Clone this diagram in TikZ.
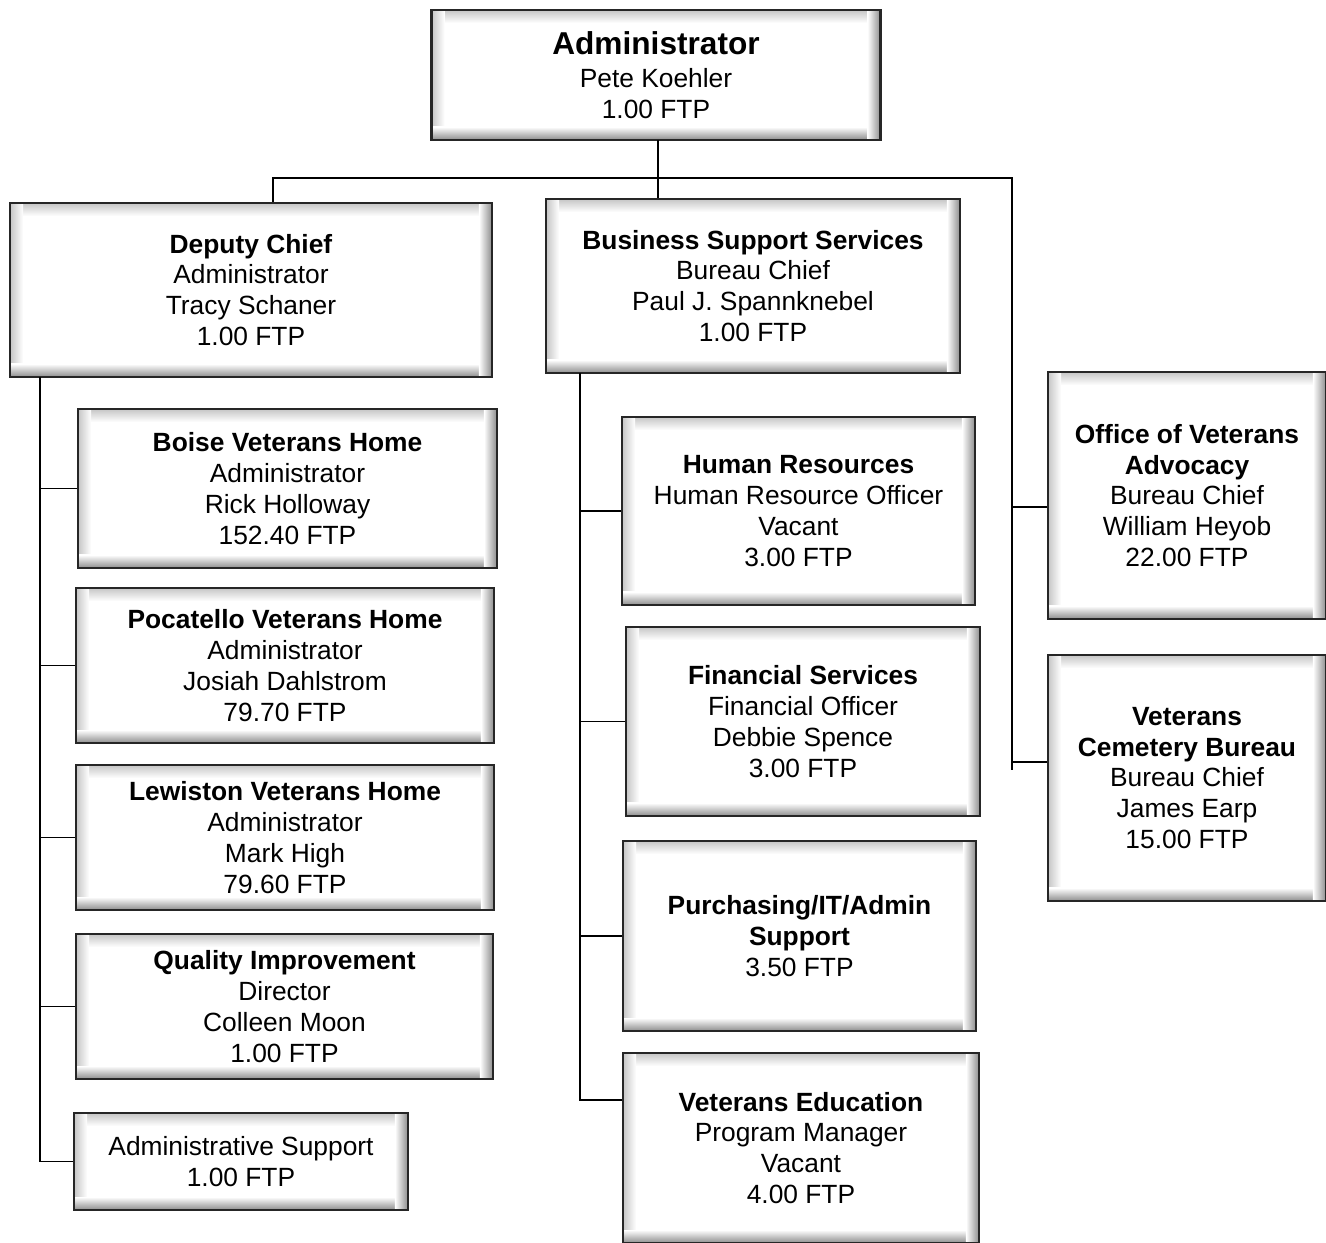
\documentclass[tikz,border=0pt]{standalone}
\usepackage{fontspec}
\setmainfont{Liberation Sans}
\usepackage{tikz}
\usetikzlibrary{calc}

\newcommand{\bev}{0.26cm}
\tikzset{
  orgbox/.style={rectangle, draw=black!85, line width=1.3pt, fill=white,
    align=center, inner sep=0pt,
    font=\fontsize{15}{17.6}\selectfont,
    path picture={
      \coordinate (sw) at (path picture bounding box.south west);
      \coordinate (ne) at (path picture bounding box.north east);
      \shade[top color=gray!45, bottom color=white] ($(sw |- ne)+(0,-\bev)$) rectangle (ne);
      \shade[left color=gray!45, right color=white] (sw) rectangle ($(sw |- ne)+(\bev,0)$);
      \shade[bottom color=gray!90, top color=white] (sw) rectangle ($(sw -| ne)+(0,\bev)$);
      \shade[left color=white, right color=gray!90] ($(sw -| ne)+(-\bev,0)$) rectangle (ne);
    }},
  conn/.style={line width=0.6pt, black}
}

\begin{document}
\begin{tikzpicture}[x=0.02cm, y=-0.02cm]
                \useasboundingbox (0,0) rectangle (1326,1242);

                \node[orgbox, minimum width=8.98cm, minimum height=2.6cm] (adm) at (656, 75) {{\fontsize{18}{21}\selectfont\bfseries Administrator}\\[1pt] Pete Koehler\\ 1.00 FTP};

                \node[orgbox, minimum width=9.64cm, minimum height=3.48cm] (dep) at (251, 290) {\textbf{Deputy Chief}\\ Administrator\\ Tracy Schaner\\ 1.00 FTP};
                \node[orgbox, minimum width=8.28cm, minimum height=3.48cm] (bss) at (753, 286) {\textbf{Business Support Services}\\ Bureau Chief\\ Paul J. Spannknebel\\ 1.00 FTP};

                \node[orgbox, minimum width=8.38cm, minimum height=3.18cm] (boise) at (287.5, 488.5) {\textbf{Boise Veterans Home}\\ Administrator\\ Rick Holloway\\ 152.40 FTP};
                \node[orgbox, minimum width=8.36cm, minimum height=3.1cm] (poc) at (285, 665.5) {\textbf{Pocatello Veterans Home}\\ Administrator\\ Josiah Dahlstrom\\ 79.70 FTP};
                \node[orgbox, minimum width=8.36cm, minimum height=2.9cm] (lew) at (285, 837.5) {\textbf{Lewiston Veterans Home}\\ Administrator\\ Mark High\\ 79.60 FTP};
                \node[orgbox, minimum width=8.34cm, minimum height=2.9cm] (qi) at (284.5, 1006.5) {\textbf{Quality Improvement}\\ Director\\ Colleen Moon\\ 1.00 FTP};
                \node[orgbox, minimum width=6.68cm, minimum height=1.94cm] (as) at (241, 1161.5) {Administrative Support\\ 1.00 FTP};

                \node[orgbox, minimum width=7.06cm, minimum height=3.76cm] (hr) at (798.5, 511) {\textbf{Human Resources}\\ Human Resource Officer\\ Vacant\\ 3.00 FTP};
                \node[orgbox, minimum width=7.08cm, minimum height=3.78cm] (fin) at (803, 721.5) {\textbf{Financial Services}\\ Financial Officer\\ Debbie Spence\\ 3.00 FTP};
                \node[orgbox, minimum width=7.06cm, minimum height=3.8cm] (pur) at (799.5, 936) {\textbf{Purchasing/IT/Admin}\\ \textbf{Support}\\ 3.50 FTP};
                \node[orgbox, minimum width=7.12cm, minimum height=3.8cm] (ved) at (801, 1148) {\textbf{Veterans Education}\\ Program Manager\\ Vacant\\ 4.00 FTP};

                \node[orgbox, minimum width=5.56cm, minimum height=4.94cm] (ova) at (1187, 495.5) {\textbf{Office of Veterans}\\ \textbf{Advocacy}\\ Bureau Chief\\ William Heyob\\ 22.00 FTP};
                \node[orgbox, minimum width=5.56cm, minimum height=4.92cm] (vcb) at (1187, 778) {\textbf{Veterans}\\ \textbf{Cemetery Bureau}\\ Bureau Chief\\ James Earp\\ 15.00 FTP};

                % top level
                \coordinate (tm) at (658, 140);
                \coordinate (tl) at (273, 178);
                \coordinate (tr) at (1012, 178);
                \coordinate (te) at (1012, 770);
                \draw[conn]
                (tm) -- (tm |- bss.north)
                (tl |- dep.north) -- (tl) -- (tr) -- (te);

                % right side
                \coordinate (r1) at (1012, 507);
                \coordinate (r2) at (1012, 762);
                \draw[conn]
                (r1) -- (r1 -| ova.west)
                (r2) -- (r2 -| vcb.west);

                % deputy chief
                \coordinate (dt) at (40, 377);
                \draw[conn] (dt) |- (as.west);
                \foreach \n in {boise, poc, lew, qi}
                    \draw[conn] (dt |- \n.west) -- (\n.west);

                % business support
                \coordinate (bt) at (580, 373);
                \coordinate (be) at (580, 1100);
                \draw[conn] (bt) -- (be) -- (be -| ved.west);
                \foreach \n in {hr, fin, pur}
                    \draw[conn] (bt |- \n.west) -- (\n.west);
            \end{tikzpicture}
\end{document}
